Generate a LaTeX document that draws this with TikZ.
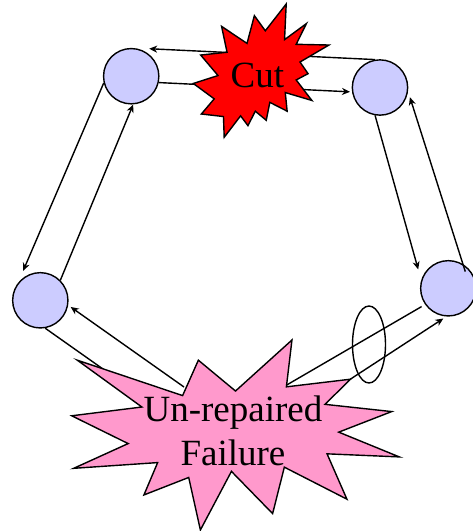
\documentclass[tikz,border=0pt]{standalone}
\usepackage{fontspec}
\setmainfont{Liberation Serif}
\usetikzlibrary{arrows.meta, shapes.geometric}

\definecolor{nodeblue}{RGB}{204,204,255}
\definecolor{burstpink}{RGB}{255,153,204}

\begin{document}
\begin{tikzpicture}[
    x=1pt, y=-1pt,
    line width=1.4pt,
    station/.style={draw, circle, fill=nodeblue, minimum size=55.3pt, inner sep=0pt},
    link/.style={-{Stealth[length=8pt, width=7pt, inset=2.5pt]}},
    burst/.style={draw, line join=miter},
    bursttext/.style={font=\fontsize{37}{44}\selectfont, align=center, inner sep=0pt}
]

\useasboundingbox (0,0) rectangle (473,531);

\node[station] (a) at (131.2,76.2) {};
\node[station] (b) at (380,87.5) {};
\node[station] (c) at (40.3,300.3) {};
\node[station] (d) at (448.3,288.3) {};

\coordinate (f1) at (184,387);
\coordinate (f2) at (115,377.5);
\coordinate (f3) at (286.7,385);
\coordinate (f4) at (350.3,379.2);

\draw[link, shorten >=18pt] (b.100) -- (a.90);
\draw[link, shorten >=2pt] (a.-13) -- (b.189);
\draw[link, shorten >=13pt] (a.194) -- (c.142);
\draw[link] (c.45) -- (a.-86);
\draw[link, shorten >=11pt] (b.-100) -- (d.163);
\draw[link, shorten <=-8pt, shorten >=6pt] (d.59) -- (b.-8);
\draw[link, shorten >=3pt] (f1) -- (c.-10);
\draw (c.-80) -- (f2);
\draw[shorten >=4pt] (f3) -- (d.215);
\draw[link, shorten >=3.5pt] (f4) -- (d.-94);

\node[draw, ellipse, minimum width=33pt, minimum height=77pt, inner sep=0pt] (cutset) at (369,344.5) {};

\draw[burst, fill=red, shift={(193.3,4)}, xscale=0.6282, yscale=0.6171]
    (114.62,43.42) -- (147.90,0) -- (145.25,57.77) -- (180.07,31.72) -- (163.80,65.32)
    -- (216,66.45) -- (169.85,94.02) -- (182.70,112.90) -- (163.80,123.10) -- (188.77,156.32)
    -- (146.40,143.50) -- (149.42,173.70) -- (121.80,159.35) -- (116.12,188.42) -- (98.72,173.70)
    -- (87.00,197.12) -- (75.27,181.25) -- (49.17,216) -- (48.05,182.40) -- (12.85,178.25)
    -- (33.30,153.70) -- (0,128.77) -- (39.35,115.92) -- (11.72,82.70) -- (53.72,78.17)
    -- (45.02,36.25) -- (85.50,63.82) -- (97.22,18.87) -- cycle;

\draw[burst, fill=burstpink, shift={(71.7,340)}, xscale=1.5167, yscale=0.8796]
    (108,58) -- (145.22,0) -- (141.55,53.25) -- (183.80,44.57) -- (167.02,73.15)
    -- (210.97,81.37) -- (176.07,104.75) -- (216,132.90) -- (168.37,129.42) -- (181.45,180.95)
    -- (140.20,144.57) -- (132.47,197.37) -- (105.32,149.35) -- (84.85,216) -- (77.15,156.27)
    -- (47.62,176.17) -- (56.67,139.37) -- (1.35,145.87) -- (37.22,117.75) -- (0,86.15)
    -- (46.27,76.17) -- (3.70,22.95) -- (73.12,63.20) -- (83.52,22.95) -- cycle;

\node[bursttext] (cut) at (257.4,75.3) {Cut};
\node[bursttext] (failure) at (233,430.5) {Un-repaired\\Failure};

\end{tikzpicture}
\end{document}
